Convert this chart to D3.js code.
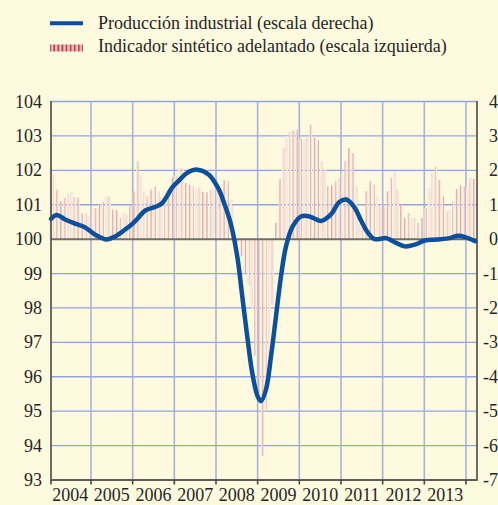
<!DOCTYPE html>
<html><head><meta charset="utf-8">
<script src="https://cdn.jsdelivr.net/npm/d3@7"></script>
<style>
html,body{margin:0;padding:0;background:#fdfadf;}
svg{display:block;}
</style></head>
<body>
<svg id="c" width="498" height="505" font-family="'Liberation Serif', 'DejaVu Serif', serif"></svg>
<script>
// ---- data ----
const yearLabels = ["2004","2005","2006","2007","2008","2009","2010","2011","2012","2013"];
const leftTicks = [93,94,95,96,97,98,99,100,101,102,103,104];
const rightTicks = [-7,-6,-5,-4,-3,-2,-1,0,1,2,3,4];
const legendLabels = ["Producción industrial (escala derecha)","Indicador sintético adelantado (escala izquierda)"];
const startYear = 2004;
// Indicador sintético adelantado (monthly, left scale), Jan 2004 .. Mar 2014
const indicador = [
 102.08,101.88,101.44,101.10,101.20,101.35,101.38,101.22,101.20,100.74,100.75,100.68,
 100.96,100.90,101.00,101.08,101.24,101.24,100.86,100.84,100.62,100.76,100.72,100.95,
 101.39,102.26,101.87,101.39,101.24,101.44,101.53,101.39,101.24,101.10,101.34,101.78,
 101.83,102.07,102.05,101.63,101.58,101.53,101.45,101.50,101.38,101.36,101.45,101.48,
 101.45,101.49,101.71,101.68,101.15,100.05,99.92,99.50,99.00,98.67,97.95,96.60,
 95.50,93.70,95.00,96.20,98.10,100.48,101.75,102.66,103.00,103.13,103.16,103.18,
 102.92,102.90,102.95,103.33,102.95,102.88,102.26,102.02,101.54,101.56,101.68,101.78,
 101.93,102.27,102.65,102.50,101.54,100.45,100.40,101.39,101.68,101.58,101.25,101.00,
 101.00,101.39,101.78,101.97,101.44,101.00,100.62,100.76,100.62,100.62,100.47,100.62,
 100.90,101.49,101.93,102.12,101.73,101.25,100.81,100.86,101.10,101.46,101.56,101.54,
 101.54,101.78,101.75
];
// Producción industrial (right scale), smoothed series sampled along time
const prodT = [2004.04,2004.18,2004.38,2004.62,2004.86,2005.10,2005.38,2005.58,2005.82,2006.0,2006.12,2006.31,2006.55,2006.71,2006.95,2007.11,2007.30,2007.55,2007.83,2008.07,2008.15,2008.35,2008.51,2008.63,2008.75,2008.87,2009.00,2009.08,2009.20,2009.32,2009.44,2009.56,2009.68,2009.84,2010.04,2010.24,2010.52,2010.76,2010.96,2011.13,2011.33,2011.49,2011.65,2011.81,2012.09,2012.29,2012.53,2012.77,2013.01,2013.29,2013.61,2013.81,2013.98,2014.22];
const prodV = [0.59,0.70,0.57,0.45,0.34,0.13,-0.01,0.08,0.28,0.45,0.60,0.84,0.94,1.05,1.50,1.70,1.92,2.02,1.87,1.44,1.20,0.47,-0.50,-1.66,-2.83,-3.89,-4.57,-4.71,-4.37,-3.41,-2.24,-1.08,-0.21,0.37,0.66,0.66,0.53,0.72,1.08,1.15,0.91,0.52,0.18,0.00,0.03,-0.09,-0.21,-0.16,-0.04,-0.01,0.03,0.10,0.06,-0.06];

// ---- chart ----
const svg = d3.select("#c");
const L = 51, R = 477, T = 101.5, B = 480;
const x = d3.scaleLinear().domain([2004.04, 2014.264]).range([L, R]);
const y = d3.scaleLinear().domain([93, 104]).range([B, T]);
const yR = d3.scaleLinear().domain([-7, 4]).range([B, T]);
const txt = "#262626";

const defs = svg.append("defs");
const pat = defs.append("pattern").attr("id","stripes").attr("patternUnits","userSpaceOnUse")
  .attr("width",4.3).attr("height",10);
pat.append("rect").attr("width",4.3).attr("height",10).attr("fill","#f7e8e0");
pat.append("rect").attr("width",1.2).attr("height",10).attr("fill","#dca8a6");
const pat2 = defs.append("pattern").attr("id","legstripes").attr("patternUnits","userSpaceOnUse")
  .attr("width",4.1).attr("height",10);
pat2.append("rect").attr("width",4.1).attr("height",10).attr("fill","#ebbcb8");
pat2.append("rect").attr("width",1.8).attr("height",10).attr("fill","#b34e4e");

// horizontal grid
svg.append("g").selectAll("line").data(leftTicks.filter(d=>d!==93&&d!==100)).join("line")
  .attr("x1",L).attr("x2",R).attr("y1",d=>y(d)).attr("y2",d=>y(d))
  .attr("stroke","#93a3dc").attr("stroke-width",1.3);
// vertical grid (year boundaries)
const yearBounds = d3.range(2005, 2015);
svg.append("g").selectAll("line").data(yearBounds).join("line")
  .attr("x1",d=>x(d)).attr("x2",d=>x(d)).attr("y1",T).attr("y2",B)
  .attr("stroke","#a9b3d6").attr("stroke-width",1.6);

// bars
const bw = 2.4;
svg.append("g").selectAll("rect").data(indicador).join("rect")
  .attr("x",(d,i)=>x(startYear + (i+0.35)/12) - bw/2)
  .attr("width",bw)
  .attr("y",d=>y(Math.max(d,100)))
  .attr("height",d=>Math.abs(y(d)-y(100)))
  .attr("fill","url(#stripes)");

// baseline at 100
svg.append("line").attr("x1",L).attr("x2",R).attr("y1",y(100)).attr("y2",y(100))
  .attr("stroke","#6f6e66").attr("stroke-width",2);

// line
const line = d3.line().x(d=>x(d[0])).y(d=>yR(d[1])).curve(d3.curveCatmullRom.alpha(0.5));
svg.append("path").datum(prodT.map((t,i)=>[t,prodV[i]]))
  .attr("d",line).attr("fill","none").attr("stroke","#0b4f9f").attr("stroke-width",4.5)
  .attr("stroke-linejoin","round").attr("stroke-linecap","round");

// axes lines
svg.append("line").attr("x1",L).attr("x2",L).attr("y1",T-0.5).attr("y2",B+1).attr("stroke","#4a4a46").attr("stroke-width",1.6);
svg.append("line").attr("x1",R).attr("x2",R).attr("y1",T-0.5).attr("y2",B+1).attr("stroke","#4a4a46").attr("stroke-width",1.6);
svg.append("line").attr("x1",L).attr("x2",R).attr("y1",B).attr("y2",B).attr("stroke","#5e5d58").attr("stroke-width",2);
// bottom ticks
svg.append("g").selectAll("line").data([2004.04].concat(yearBounds)).join("line")
  .attr("x1",d=>x(d)).attr("x2",d=>x(d)).attr("y1",B).attr("y2",B+4.5)
  .attr("stroke","#4a4a46").attr("stroke-width",1.6);

// left labels
svg.append("g").selectAll("text").data(leftTicks).join("text")
  .attr("x",42).attr("y",d=>y(d)+6).attr("text-anchor","end").attr("fill",txt)
  .attr("font-size",18).text(d=>d);
// right labels
svg.append("g").selectAll("text").data(rightTicks).join("text")
  .attr("x",498).attr("y",d=>yR(d)+6).attr("text-anchor","end").attr("fill",txt)
  .attr("font-size",18).text(d=>d);
// year labels
svg.append("g").selectAll("text").data(yearLabels).join("text")
  .attr("x",(d,i)=>x(startYear+i+0.5)).attr("y",501).attr("text-anchor","middle").attr("fill",txt)
  .attr("font-size",18).text(d=>d);

// legend
svg.append("line").attr("x1",50).attr("x2",83).attr("y1",23.3).attr("y2",23.3)
  .attr("stroke","#0b4f9f").attr("stroke-width",4);
svg.append("rect").attr("x",50).attr("y",44.5).attr("width",33).attr("height",7)
  .attr("fill","url(#legstripes)");
svg.append("text").attr("x",98).attr("y",29).attr("font-size",18).attr("fill",txt).text(legendLabels[0]);
svg.append("text").attr("x",98).attr("y",51.5).attr("font-size",18).attr("fill",txt).text(legendLabels[1]);
</script>
</body></html>
